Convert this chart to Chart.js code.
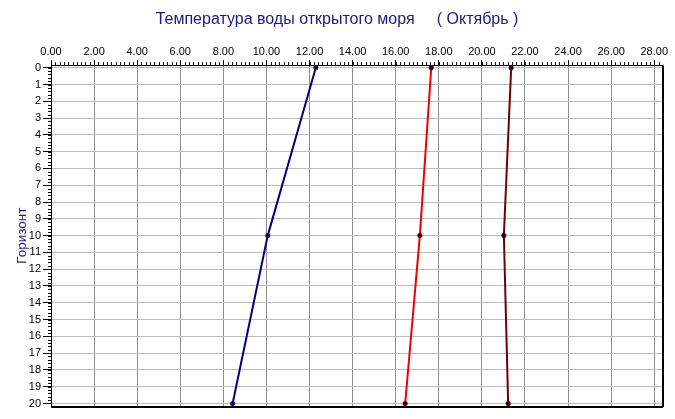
<!DOCTYPE html>
<html>
<head>
<meta charset="utf-8">
<script src="https://cdn.jsdelivr.net/npm/chart.js@4"></script>
<style>
  body { margin: 0; background: #fff; }
  #wrap { width: 675px; height: 419px; }
</style>
</head>
<body>
<div id="wrap"><canvas id="chart"></canvas></div>
<script>
// Горизонты (глубины) и температуры по сериям
const depths = [0, 10, 20];
const series1 = [12.29, 10.06, 8.43];
const series2 = [17.65, 17.12, 16.44];
const series3 = [21.36, 21.02, 21.22];

// Подписи осей
const xTicks = [0, 2, 4, 6, 8, 10, 12, 14, 16, 18, 20, 22, 24, 26, 28];
const yTicks = [0, 1, 2, 3, 4, 5, 6, 7, 8, 9, 10, 11, 12, 13, 14, 15, 16, 17, 18, 19, 20];

const FONT = "'Liberation Sans', Arial, sans-serif";

function toPoints(vals) {
  return vals.map((v, i) => ({ x: v, y: depths[i] }));
}

// Мелкие деления и рамка
const framePlugin = {
  id: 'frame',
  afterDraw(chart) {
    const { ctx, chartArea: a, scales } = chart;
    ctx.save();
    ctx.strokeStyle = '#000';
    ctx.lineWidth = 1;
    ctx.beginPath();
    const xs = scales.x;
    for (let v = 0; v <= xs.max + 1e-9; v += 0.2) {
      const px = Math.round(xs.getPixelForValue(v)) + 0.5;
      ctx.moveTo(px, a.top);
      ctx.lineTo(px, a.top - 3);
    }
    const ys = scales.y;
    for (let v = 0; v <= 20 + 1e-9; v += 0.2) {
      const py = Math.round(ys.getPixelForValue(v)) + 0.5;
      ctx.moveTo(a.left, py);
      ctx.lineTo(a.left - 3, py);
    }
    ctx.stroke();
    ctx.strokeRect(Math.round(a.left) + 0.5, Math.round(a.top) + 0.5,
      Math.round(a.right - a.left), Math.round(a.bottom - a.top));
    ctx.lineWidth = 2;
    ctx.beginPath();
    ctx.moveTo(a.left, Math.round(a.bottom) + 1);
    ctx.lineTo(a.right + 1, Math.round(a.bottom) + 1);
    ctx.moveTo(Math.round(a.right) + 1, a.top);
    ctx.lineTo(Math.round(a.right) + 1, a.bottom + 1);
    ctx.stroke();
    ctx.restore();
  }
};

new Chart(document.getElementById('chart'), {
  type: 'line',
  data: {
    datasets: [
      { data: toPoints(series1), borderColor: '#000080', borderWidth: 2, pointRadius: 1.5,
        pointBackgroundColor: '#101040', pointBorderColor: '#101040', tension: 0 },
      { data: toPoints(series2), borderColor: '#ee0000', borderWidth: 2, pointRadius: 1.5,
        pointBackgroundColor: '#400000', pointBorderColor: '#400000', tension: 0 },
      { data: toPoints(series3), borderColor: '#700000', borderWidth: 2, pointRadius: 1.5,
        pointBackgroundColor: '#300000', pointBorderColor: '#300000', tension: 0 }
    ]
  },
  options: {
    responsive: true,
    maintainAspectRatio: false,
    animation: false,
    layout: { padding: { left: 12, right: 13, top: 0, bottom: 13 } },
    plugins: {
      legend: { display: false },
      tooltip: { enabled: false },
      title: {
        display: true,
        text: 'Температура воды открытого моря     ( Октябрь )',
        color: '#1a1a80',
        font: { family: FONT, size: 16, weight: 'normal' },
        padding: { top: 10, bottom: 0 }
      }
    },
    scales: {
      x: {
        type: 'linear',
        position: 'top',
        min: 0,
        max: 28.36,
        afterBuildTicks: s => { s.ticks = xTicks.map(v => ({ value: v })); },
        afterFit: s => { s.height = 36; },
        ticks: {
          color: '#000',
          font: { family: FONT, size: 11 },
          padding: 2,
          maxRotation: 0,
          callback: v => Number(v).toFixed(2)
        },
        grid: { color: '#8c8c8c', tickColor: '#000', tickLength: 5 },
        border: { color: '#000' }
      },
      y: {
        type: 'linear',
        reverse: true,
        min: -0.15,
        max: 20.15,
        afterBuildTicks: s => { s.ticks = yTicks.map(v => ({ value: v })); },
        afterFit: s => { s.width = 39; },
        ticks: {
          color: '#000',
          font: { family: FONT, size: 11 },
          padding: 2
        },
        grid: { color: '#bcbcbc', tickColor: '#000', tickLength: 8 },
        border: { color: '#000' },
        title: {
          display: true,
          text: 'Горизонт',
          color: '#1a1a80',
          font: { family: FONT, size: 13.5 },
          padding: { top: 2, bottom: 0 }
        }
      }
    }
  },
  plugins: [framePlugin]
});
</script>
</body>
</html>
